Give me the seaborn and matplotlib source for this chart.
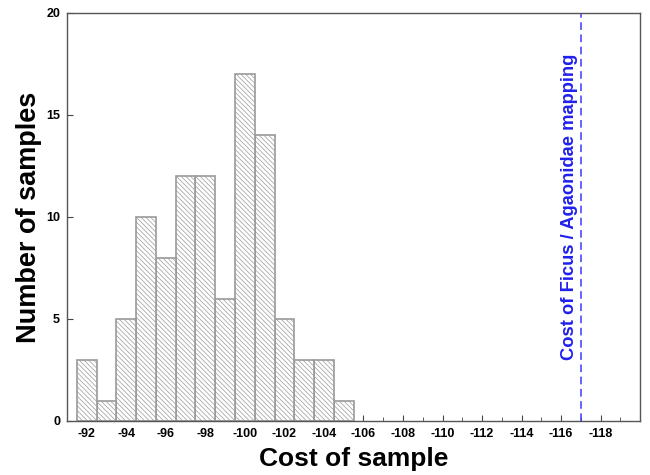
import numpy as np
import pandas as pd
import seaborn as sns
import matplotlib.pyplot as plt
from matplotlib.ticker import MultipleLocator

# counts per cost value
costs = [-92, -93, -94, -95, -96, -97, -98, -99, -100, -101, -102, -103, -104, -105]
counts = [3, 1, 5, 10, 8, 12, 12, 6, 17, 14, 5, 3, 3, 1]
ficus_cost = -117
xtick_values = list(range(-92, -119, -2))

sns.set_style('ticks')
plt.rcParams['font.family'] = ['Liberation Sans', 'DejaVu Sans']
plt.rcParams['hatch.color'] = '#8c8c8c'
plt.rcParams['hatch.linewidth'] = 0.5

df = pd.DataFrame({'cost': costs, 'n': counts})

fig = plt.figure(figsize=(6.5, 4.75), dpi=100)
ax = fig.add_axes([0.103, 0.1137, 0.882, 0.859])

sns.histplot(data=df, x='cost', weights='n', discrete=True, ax=ax,
             color='white', edgecolor='#9a9a9a', linewidth=1.2, alpha=1,
             hatch='\\\\\\\\\\\\\\')

ax.axvline(ficus_cost, color='#3a3aff', linestyle=(0, (5, 3)), linewidth=1.1)
ax.text(ficus_cost + 0.6, 10.5, 'Cost of Ficus / Agaonidae mapping',
        rotation=90, color='#2020ee', fontsize=13.2, fontweight='bold',
        ha='center', va='center')

ax.set_xlim(-91, -120)
ax.set_ylim(0, 20)
ax.set_xticks(xtick_values)
ax.set_xticklabels([str(v) for v in xtick_values])
ax.xaxis.set_minor_locator(MultipleLocator(1))
ax.set_yticks([0, 5, 10, 15, 20])

ax.tick_params(axis='both', which='both', direction='in', colors='#444444',
               labelcolor='black', labelsize=9)
ax.tick_params(axis='x', which='major', length=4, pad=5)
ax.tick_params(axis='x', which='minor', length=3)
ax.tick_params(axis='y', length=4, pad=5)
for lbl in ax.get_xticklabels() + ax.get_yticklabels():
    lbl.set_fontweight('bold')

for side in ['top', 'right', 'left', 'bottom']:
    ax.spines[side].set_visible(True)
    ax.spines[side].set_color('#555555')
    ax.spines[side].set_linewidth(1.0)

ax.set_xlabel('Cost of sample', fontsize=19, fontweight='bold', labelpad=5,
              color='black')
ax.set_ylabel('Number of samples', fontsize=19.5, fontweight='bold', labelpad=3,
              color='black')

fig.savefig('out.png', dpi=100)
